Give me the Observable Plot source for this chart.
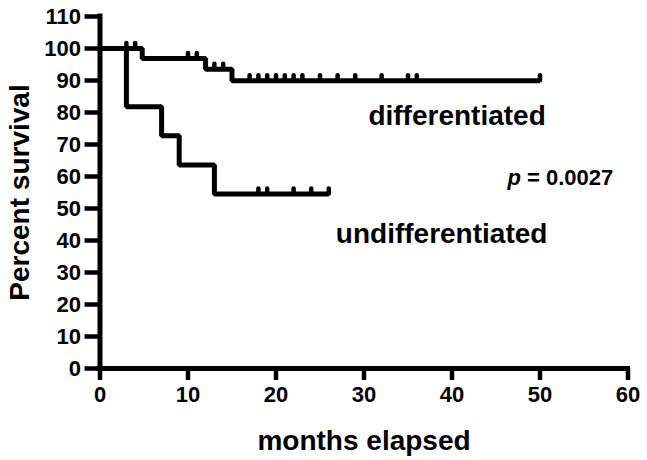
<!DOCTYPE html>
<html><head><meta charset="utf-8">
<script src="https://cdn.jsdelivr.net/npm/d3@7"></script>
<script src="https://cdn.jsdelivr.net/npm/@observablehq/plot@0.6"></script>
<style>
html,body{margin:0;padding:0;background:#fff}
svg{display:block}
svg g[aria-label="x-axis tick label"], svg g[aria-label="y-axis tick label"] {font-size:22px !important; font-weight:bold !important;}
svg g[aria-label="x-axis tick label"] text, svg g[aria-label="y-axis tick label"] text {font-size:22px !important; font-weight:bold !important;}
</style>
</head><body><div id="chart"></div>
<script>
// Kaplan–Meier steps (months, percent survival)
const diffTimes = [0, 4.8, 12, 15, 50];
const diffSurvival = [100, 96.9, 93.5, 89.9, 89.9];
const diffCensorTimes = [3, 4, 10, 11, 13, 14, 17, 18, 19, 20, 21, 22, 23, 25, 27, 29, 32, 35, 36, 50];

const undiffTimes = [0, 3, 7, 9, 13, 26];
const undiffSurvival = [100, 81.8, 72.7, 63.6, 54.5, 54.5];
const undiffCensorTimes = [18, 19, 22, 24, 26];

const xTicks = [0, 10, 20, 30, 40, 50, 60];
const yTicks = [0, 10, 20, 30, 40, 50, 60, 70, 80, 90, 100, 110];

const groupNames = ["differentiated", "undifferentiated"];
const groupLabelX = [30.5, 26.8];
const groupLabelY = [78.8, 41.9];
const pText = " = 0.0027";
const pX = [46.3];
const pY = [59.4];

const xTitle = "months elapsed";
const yTitle = "Percent survival";

function steps(times, surv) { return times.map((t, i) => ({t, s: surv[i]})); }
function survAt(times, surv, t) {
  let s = surv[0];
  for (let i = 0; i < times.length; i++) if (times[i] <= t) s = surv[i];
  return s;
}
const diffData = steps(diffTimes, diffSurvival);
const undiffData = steps(undiffTimes, undiffSurvival);
const censors = [
  ...diffCensorTimes.map(t => ({t, s: survAt(diffTimes, diffSurvival, t)})),
  ...undiffCensorTimes.map(t => ({t, s: survAt(undiffTimes, undiffSurvival, t)}))
];
const groupLabels = groupNames.map((name, i) => ({name, x: groupLabelX[i], y: groupLabelY[i]}));

const font = "'Liberation Sans', Arial, Helvetica, sans-serif";
const chart = Plot.plot({
  width: 647,
  height: 460,
  marginLeft: 99.5,
  marginRight: 19.5,
  marginTop: 16,
  marginBottom: 92,
  x: {domain: [0, 60]},
  y: {domain: [0, 110]},
  style: {fontFamily: font, fontWeight: "bold", fontSize: "22px", color: "black", background: "white"},
  marks: [
    Plot.axisX(xTicks, {tickSize: 12, tickPadding: 6, strokeWidth: 4.5, fontSize: 22, fontWeight: "bold", label: null}),
    Plot.axisY(yTicks, {tickSize: 15, tickPadding: 4, strokeWidth: 4.5, fontSize: 22, fontWeight: "bold", label: null}),
    Plot.ruleY([0], {x1: 0, x2: 60, stroke: "black", strokeWidth: 5, strokeLinecap: "square"}),
    Plot.ruleX([0], {y1: 0, y2: 110, stroke: "black", strokeWidth: 5, strokeLinecap: "square"}),
    Plot.line(diffData, {x: "t", y: "s", curve: "step-after", stroke: "black", strokeWidth: 5, strokeLinejoin: "miter", strokeLinecap: "butt"}),
    Plot.line(undiffData, {x: "t", y: "s", curve: "step-after", stroke: "black", strokeWidth: 5, strokeLinejoin: "miter", strokeLinecap: "butt"}),
    Plot.ruleX(censors, {x: "t", y1: "s", y2: "s", insetTop: -5, stroke: "black", strokeWidth: 4.5, strokeLinecap: "round"}),
    Plot.text(groupLabels, {x: "x", y: "y", text: "name", textAnchor: "start", lineAnchor: "middle", fontSize: 28, fontWeight: "bold", fill: "black"}),
    Plot.text(["p"], {x: () => pX[0], y: () => pY[0], textAnchor: "start", lineAnchor: "middle", fontSize: 22, fontWeight: "bold", fontStyle: "italic", fill: "black"}),
    Plot.text([pText], {x: () => pX[0], y: () => pY[0], dx: 13.4, textAnchor: "start", lineAnchor: "middle", fontSize: 22, fontWeight: "bold", fill: "black"}),
    Plot.text([xTitle], {frameAnchor: "bottom", textAnchor: "middle", lineAnchor: "bottom", dy: 81, fontSize: 28, fontWeight: "bold", fill: "black"}),
    Plot.text([yTitle], {frameAnchor: "left", textAnchor: "middle", lineAnchor: "bottom", rotate: -90, dx: -71.5, fontSize: 28, fontWeight: "bold", fill: "black"})
  ]
});
document.getElementById("chart").appendChild(chart);
</script>
</body></html>
